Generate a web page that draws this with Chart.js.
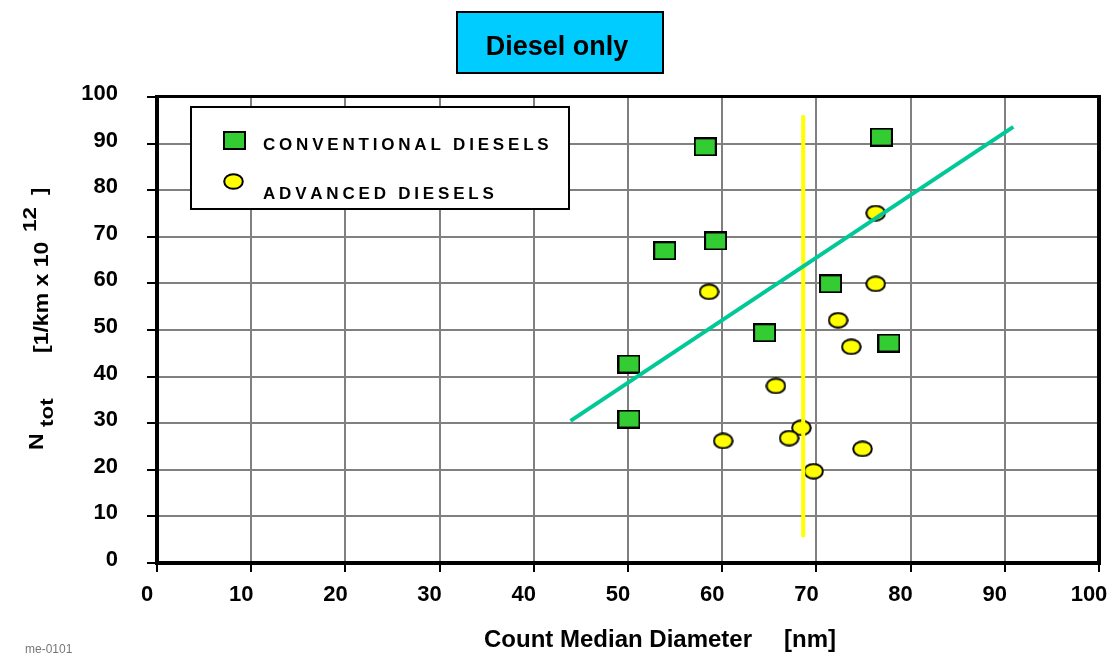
<!DOCTYPE html>
<html>
<head>
<meta charset="utf-8">
<script src="https://cdn.jsdelivr.net/npm/chart.js@4.4.1/dist/chart.umd.min.js"></script>
<style>
  html, body { margin: 0; padding: 0; background: #ffffff; }
  canvas { display: block; }
</style>
</head>
<body>
<canvas id="chart" width="1108" height="655"></canvas>
<script>
// ---- data ----
const chartTitle = 'Diesel only';
const seriesNames = ['CONVENTIONAL DIESELS', 'ADVANCED DIESELS'];

// count median diameter [nm] / total particle number [1/km x 10^12]
const conventionalX = [58.2, 76.9, 53.9, 59.3, 71.5, 64.5, 77.7, 50.1, 50.1];
const conventionalY = [89.3, 91.4, 67.0, 69.1, 59.9, 49.4, 47.2, 42.7, 30.9];

const advancedX = [76.3, 58.6, 76.3, 72.3, 73.7, 65.7, 68.4, 67.1, 60.1, 74.9, 69.7];
const advancedY = [75.1, 58.2, 59.9, 52.1, 46.4, 38.0, 29.0, 26.8, 26.2, 24.5, 19.7];

// trend line and vertical reference line
const trendX = [43.9, 90.9];
const trendY = [30.5, 93.6];
const refLineX = [68.6, 68.6];
const refLineY = [5.6, 96.1];

const xTicks = [0, 10, 20, 30, 40, 50, 60, 70, 80, 90, 100];
const yTicks = [0, 10, 20, 30, 40, 50, 60, 70, 80, 90, 100];

const toPoints = (xs, ys) => xs.map((x, i) => ({ x: x, y: ys[i] }));

// ---- marker images ----
function squareMarker(w, h) {
  const c = document.createElement('canvas');
  c.width = w; c.height = h;
  const g = c.getContext('2d');
  g.fillStyle = '#33CC33';
  g.fillRect(1, 1, w - 2, h - 2);
  g.lineWidth = 2;
  g.strokeStyle = '#000000';
  g.strokeRect(1, 1, w - 2, h - 2);
  return c;
}
function ellipseMarker(w, h) {
  const c = document.createElement('canvas');
  c.width = w; c.height = h;
  const g = c.getContext('2d');
  g.beginPath();
  g.ellipse(w / 2, h / 2, w / 2 - 1.2, h / 2 - 1.2, 0, 0, Math.PI * 2);
  g.fillStyle = '#FFFF00';
  g.fill();
  g.lineWidth = 2;
  g.strokeStyle = '#000000';
  g.stroke();
  return c;
}
const squareImg = squareMarker(23, 19);
const ellipseImg = ellipseMarker(21, 17);

const FONT = '"Liberation Sans", Arial, Helvetica, sans-serif';

// text with extra spacing between characters
function spacedText(ctx, text, x, y, spacing) {
  let cx = x;
  for (const ch of text) {
    ctx.fillText(ch, cx, y);
    cx += ctx.measureText(ch).width + spacing;
  }
}

// rotated (bottom-to-top) text piece starting at yStart, slightly stretched along the text
function rotatedPiece(ctx, text, yStart, xBase, size, stretch) {
  ctx.save();
  ctx.font = 'bold ' + size + 'px ' + FONT;
  ctx.translate(xBase, yStart);
  ctx.rotate(-Math.PI / 2);
  ctx.scale(stretch, 1);
  ctx.textAlign = 'left';
  ctx.textBaseline = 'alphabetic';
  ctx.fillText(text, 0, 0);
  ctx.restore();
}

const decorations = {
  id: 'decorations',
  afterDatasetsDraw(chart) {
    const ctx = chart.ctx;
    const a = chart.chartArea;
    ctx.save();
    // plot frame
    ctx.strokeStyle = '#000000';
    ctx.lineCap = 'square';
    ctx.lineWidth = 3;
    ctx.beginPath(); ctx.moveTo(a.left, a.top - 0.5); ctx.lineTo(a.right, a.top - 0.5); ctx.stroke();
    ctx.lineWidth = 4;
    ctx.beginPath(); ctx.moveTo(a.left, a.top); ctx.lineTo(a.left, a.bottom); ctx.stroke();
    ctx.beginPath(); ctx.moveTo(a.right, a.top); ctx.lineTo(a.right, a.bottom); ctx.stroke();
    ctx.beginPath(); ctx.moveTo(a.left, a.bottom); ctx.lineTo(a.right, a.bottom); ctx.stroke();

    // legend box
    ctx.lineCap = 'butt';
    ctx.fillStyle = '#ffffff';
    ctx.fillRect(191, 107, 378, 102);
    ctx.lineWidth = 2;
    ctx.strokeRect(191, 107, 378, 102);
    ctx.drawImage(squareImg, 234 - 11, 140 - 9);
    ctx.drawImage(ellipseImg, 233 - 10, 181 - 8);
    ctx.fillStyle = '#000000';
    ctx.font = 'bold 17px ' + FONT;
    ctx.textAlign = 'left';
    ctx.textBaseline = 'alphabetic';
    spacedText(ctx, seriesNames[0], 263, 150, 3.8);
    spacedText(ctx, seriesNames[1], 263, 199, 3.8);
    ctx.restore();
  },
  afterDraw(chart) {
    const ctx = chart.ctx;
    ctx.save();
    // title box
    ctx.fillStyle = '#00CCFF';
    ctx.fillRect(457, 12, 206, 61);
    ctx.strokeStyle = '#000000';
    ctx.lineWidth = 2;
    ctx.strokeRect(457, 12, 206, 61);
    ctx.fillStyle = '#000000';
    ctx.font = 'bold 27px ' + FONT;
    ctx.textAlign = 'center';
    ctx.textBaseline = 'alphabetic';
    ctx.fillText(chartTitle, 557, 55);

    // x axis title
    ctx.font = 'bold 24px ' + FONT;
    ctx.textAlign = 'left';
    ctx.fillText('Count Median Diameter', 484, 647);
    ctx.fillText('[nm]', 784, 647);

    // y axis title
    ctx.fillStyle = '#000000';
    rotatedPiece(ctx, 'N', 450, 43, 21, 1.1);
    rotatedPiece(ctx, 'tot', 427, 53, 18, 1.25);
    rotatedPiece(ctx, '[1/km x 10', 353, 48, 20, 1.15);
    rotatedPiece(ctx, '12', 232, 36, 18, 1.25);
    rotatedPiece(ctx, ']', 195, 46, 20, 1.1);

    // figure code
    ctx.fillStyle = '#777777';
    ctx.font = '12px ' + FONT;
    ctx.textAlign = 'left';
    ctx.fillText('me-0101', 25, 653);
    ctx.restore();
  }
};

new Chart(document.getElementById('chart'), {
  type: 'scatter',
  data: {
    datasets: [
      {
        type: 'line',
        label: 'trend',
        data: toPoints(trendX, trendY),
        borderColor: '#00C896',
        borderWidth: 4,
        pointRadius: 0,
        fill: false,
        order: 0
      },
      {
        type: 'line',
        label: 'reference',
        data: toPoints(refLineX, refLineY),
        borderColor: '#FFFF00',
        borderWidth: 4,
        pointRadius: 0,
        fill: false,
        order: 0
      },
      {
        label: seriesNames[1],
        data: toPoints(advancedX, advancedY),
        pointStyle: ellipseImg,
        order: 1
      },
      {
        label: seriesNames[0],
        data: toPoints(conventionalX, conventionalY),
        pointStyle: squareImg,
        order: 1
      }
    ]
  },
  options: {
    responsive: false,
    animation: false,
    devicePixelRatio: 1,
    layout: { padding: { left: 0, top: 97, right: 9, bottom: 0 } },
    plugins: {
      legend: { display: false },
      title: { display: false },
      tooltip: { enabled: false }
    },
    scales: {
      x: {
        type: 'linear',
        min: 0,
        max: 100,
        afterBuildTicks: s => { s.ticks = xTicks.map(v => ({ value: v })); },
        afterFit: s => { s.height = 92; s.paddingLeft = 0; s.paddingRight = 0; },
        border: { display: false },
        grid: {
          color: '#808080',
          lineWidth: 2,
          drawTicks: true,
          tickLength: 9,
          tickColor: '#000000',
          tickWidth: 2
        },
        ticks: {
          color: '#000000',
          font: { family: FONT, size: 22, weight: 'bold' },
          padding: 10,
          labelOffset: -10,
          maxRotation: 0,
          autoSkip: false
        }
      },
      y: {
        type: 'linear',
        min: 0,
        max: 100,
        afterBuildTicks: s => { s.ticks = yTicks.map(v => ({ value: v })); },
        afterFit: s => { s.width = 157; s.paddingTop = 0; s.paddingBottom = 0; },
        border: { display: false },
        grid: {
          color: '#808080',
          lineWidth: 2,
          drawTicks: true,
          tickLength: 10,
          tickColor: '#000000',
          tickWidth: 2
        },
        ticks: {
          color: '#000000',
          font: { family: FONT, size: 22, weight: 'bold' },
          padding: 29,
          labelOffset: -3,
          autoSkip: false
        }
      }
    }
  },
  plugins: [decorations]
});
</script>
</body>
</html>
